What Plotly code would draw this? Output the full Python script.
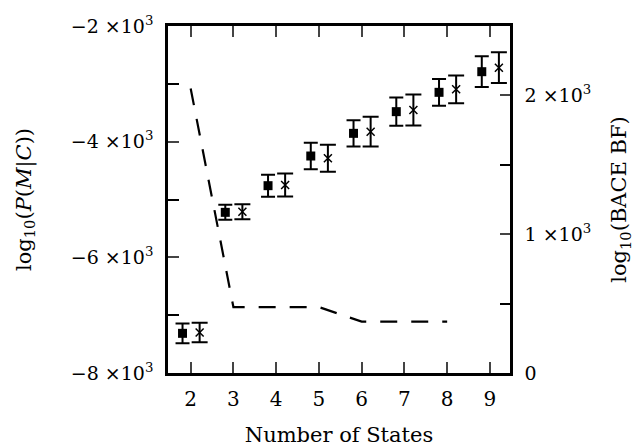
import plotly.graph_objects as go

states = [2, 3, 4, 5, 6, 7, 8, 9]
pmc_a = [-7314, -5222, -4761, -4248, -3856, -3481, -3147, -2790]
pmc_a_err = [170, 130, 190, 230, 228, 245, 230, 265]
pmc_b = [-7300, -5211, -4750, -4288, -3827, -3452, -3095, -2721]
pmc_b_err = [170, 130, 199, 233, 256, 268, 240, 265]
bf_states = [2, 3, 4, 5, 6, 7, 8]
bace_bf = [2050, 475, 475, 475, 370, 370, 370]

left_tickvals = [-8000, -6000, -4000, -2000]
left_ticktext = ["−8 ×10<sup>3</sup>", "−6 ×10<sup>3</sup>", "−4 ×10<sup>3</sup>", "−2 ×10<sup>3</sup>"]
right_tickvals = [0, 1000, 2000]
right_ticktext = ["0", "1 ×10<sup>3</sup>", "2 ×10<sup>3</sup>"]

FONT = "DejaVu Serif"
off_a, off_b = -0.19, 0.21

fig = go.Figure()
fig.add_trace(go.Scatter(
    x=[s + off_a for s in states], y=pmc_a, mode="markers",
    marker=dict(symbol="square", size=9, color="black"),
    error_y=dict(type="data", array=pmc_a_err, color="black", thickness=2, width=7),
    showlegend=False))
fig.add_trace(go.Scatter(
    x=[s + off_b for s in states], y=pmc_b, mode="markers",
    marker=dict(symbol="x-thin", size=8, color="black", line=dict(width=1.5, color="black")),
    error_y=dict(type="data", array=pmc_b_err, color="black", thickness=2, width=8),
    showlegend=False))
fig.add_trace(go.Scatter(
    x=bf_states, y=bace_bf, mode="lines", yaxis="y2",
    line=dict(color="black", width=2.2, dash="17px,14px"),
    showlegend=False))

fig.update_layout(
    width=636, height=448,
    margin=dict(l=168, r=126, t=26, b=75),
    paper_bgcolor="white", plot_bgcolor="white",
    font=dict(family=FONT, size=19, color="black"),
    xaxis=dict(range=[1.47, 9.47], tickvals=states, ticks="inside", ticklen=11, tickwidth=2,
               showline=True, linewidth=2.5, linecolor="black", mirror="ticks",
               showgrid=False, zeroline=False, tickfont=dict(size=20), automargin=False,
               ticklabelstandoff=6,
               title=dict(text="Number of States", font=dict(size=21), standoff=18)),
    yaxis=dict(range=[-8000, -2000], tickvals=left_tickvals, ticktext=left_ticktext,
               ticks="inside", ticklen=11, tickwidth=2, showline=True, linewidth=2.5,
               minor=dict(ticks="inside", dtick=1000, ticklen=11, tickwidth=2, tickcolor="black"),
               linecolor="black", showgrid=False, zeroline=False, ticklabelstandoff=8,
               automargin=False, tickfont=dict(size=19),
               title=dict(text="log<sub>10</sub>(<i>P</i>(<i>M</i>|<i>C</i>))", font=dict(size=21), standoff=34)),
    yaxis2=dict(range=[0, 2500], tickvals=right_tickvals, ticktext=right_ticktext,
                overlaying="y", side="right", ticks="inside", ticklen=10, tickwidth=2,
                minor=dict(ticks="inside", dtick=500, ticklen=10, tickwidth=2, tickcolor="black"),
                showline=True, linewidth=2.5, linecolor="black", showgrid=False,
                zeroline=False, ticklabelstandoff=8, automargin=False, tickfont=dict(size=19),
                title=dict(text="log<sub>10</sub>(BACE BF)", font=dict(size=21), standoff=22)),
)

fig.write_html("out.html", config={"displayModeBar": False},
               post_script="document.body.style.margin='0';")
